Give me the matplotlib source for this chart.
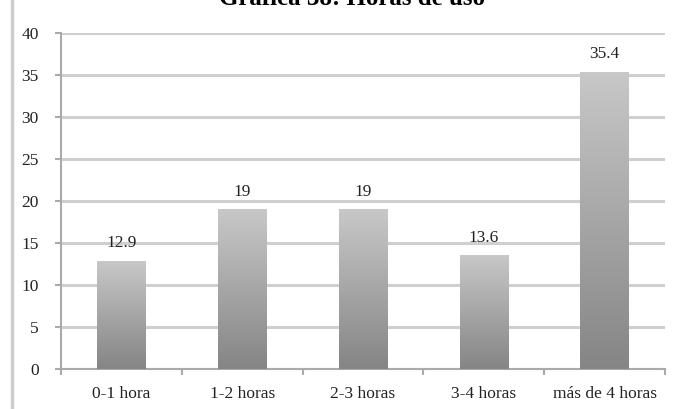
import matplotlib.pyplot as plt
import numpy as np
from matplotlib.lines import Line2D
from matplotlib.colors import LinearSegmentedColormap

categories = ['0-1 hora', '1-2 horas', '2-3 horas', '3-4 horas', 'más de 4 horas']
values = [12.9, 19, 19, 13.6, 35.4]
value_labels = ['12.9', '19', '19', '13.6', '35.4']
yticks = [0, 5, 10, 15, 20, 25, 30, 35, 40]

plt.rcParams['font.family'] = ['Liberation Serif', 'DejaVu Serif']

fig = plt.figure(figsize=(6.76, 4.09), dpi=100)
ax = fig.add_axes([61 / 676, 1 - 369 / 409, (665 - 61) / 676, (369 - 33) / 409])

x = np.arange(len(categories))
bars = ax.bar(x, values, width=0.4, color='none', edgecolor='none', zorder=3)

# vertical grey gradient inside each bar: dark at the bottom, light at the top
cmap = LinearSegmentedColormap.from_list('bar', ['#858585', '#c8c8c8'])
grad = np.linspace(0, 1, 256).reshape(-1, 1)
for b in bars:
    x0 = b.get_x()
    h = b.get_height()
    im = ax.imshow(grad, cmap=cmap, vmin=0, vmax=1, aspect='auto',
                   extent=[x0, x0 + b.get_width(), 0, h], origin='lower',
                   zorder=3)
    im.set_clip_path(b)

for xi, v, lab in zip(x, values, value_labels):
    ax.text(xi, v + 1.1, lab, ha='center', va='bottom', fontsize=12.5, color='#222222')

ax.set_xlim(-0.5, len(categories) - 0.5)
ax.set_ylim(0, 40)
ax.set_yticks(yticks)
ax.set_xticks(x)
ax.set_xticklabels(categories, fontsize=12.5, color='#222222')
ax.set_xticks(np.arange(-0.5, len(categories)), minor=True)
ax.tick_params(axis='x', which='major', length=0, pad=12)
ax.tick_params(axis='x', which='minor', length=4, color='#aaaaaa', width=1.5)
ax.tick_params(axis='y', length=4, color='#aaaaaa', width=1.5, labelsize=12.5,
               labelcolor='#222222', pad=12)
ax.yaxis.grid(True, color='#cfcfcf', linewidth=2.2)
ax.set_axisbelow(True)
for s in ['top', 'right']:
    ax.spines[s].set_visible(False)
for s in ['left', 'bottom']:
    ax.spines[s].set_color('#aaaaaa')
    ax.spines[s].set_linewidth(1.5)

fig.text(352 / 676, 1 - 5 / 409, 'Gráfica 38: Horas de uso', ha='center', va='baseline',
         fontsize=18, fontweight='bold')

# page border line on the left
fig.add_artist(Line2D([12 / 676, 12 / 676], [0, 1], color='#cccccc', linewidth=2.5))

fig.savefig('out.png', dpi=100)
